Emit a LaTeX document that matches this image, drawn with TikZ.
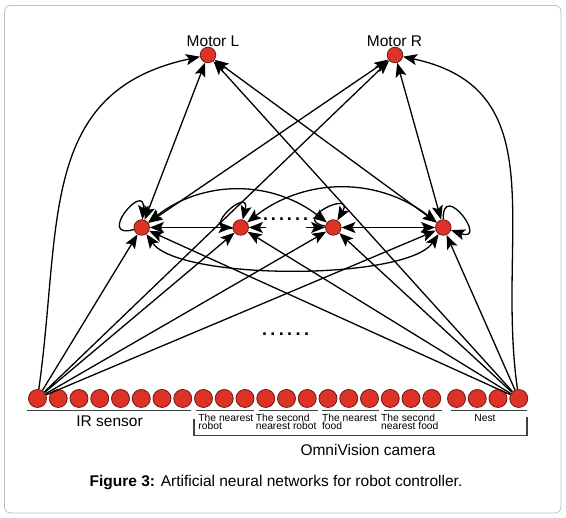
\documentclass[tikz,border=0pt]{standalone}
\usepackage{fontspec}
\setmainfont{Liberation Sans}
\usepackage{tikz}
\usetikzlibrary{arrows.meta}
\definecolor{neuronred}{RGB}{222, 50, 38}
\definecolor{neurondark}{RGB}{105, 28, 20}
\definecolor{framegray}{RGB}{190, 190, 190}
\definecolor{bargray}{RGB}{65, 65, 65}
\tikzset{
  >=Stealth,
  synapse/.style={-{Stealth[length=14pt, width=11pt, inset=3pt]}, line width=1.3pt, black},
  synapse_both/.style={{Stealth[length=14pt, width=11pt, inset=3pt]}-{Stealth[length=14pt, width=11pt, inset=3pt]}, line width=1.3pt, black},
  groupbar/.style={line width=1.7pt, bargray},
  bracketline/.style={line width=1.3pt, bargray}
}
\tikzset{
  neuron/.style={circle, draw=neurondark, fill=neuronred, line width=0.8pt, minimum size=15.5pt, inner sep=0pt},
  inneuron/.style={neuron, minimum size=18pt},
  labeltext/.style={font=\fontsize{15.5}{17}\selectfont, inner sep=0pt},
  grouptext/.style={font=\fontsize{10.3}{8.8}\selectfont, align=left, inner sep=0pt},
  dotstext/.style={font=\fontsize{18}{18}\selectfont\bfseries, inner sep=0pt}
}

\begin{document}
\begin{tikzpicture}[x=1pt, y=1pt]
    \useasboundingbox (0,0) rectangle (566,518);
    \draw[framegray, line width=0.8pt, rounded corners=6pt] (4.5,5) rectangle (561,512.5);

    % Output layer
    \node[neuron] (motorL) at (208, 463) {};
    \node[neuron] (motorR) at (395, 463) {};
    \node[labeltext, anchor=base] (motorLlabel) at (213, 471.3) {Motor L};
    \node[labeltext, anchor=base] (motorRlabel) at (394.5, 471.3) {Motor R};

    % Hidden layer
    \node[neuron] (hid1) at (141.7, 290.5) {};
    \node[neuron] (hid2) at (240.7, 290.5) {};
    \node[neuron] (hid3) at (333.3, 290.5) {};
    \node[neuron] (hid4) at (443.3, 290.5) {};
    \node[dotstext] (hiddots) at (285.5, 299) {\makebox[45pt]{.\hfill.\hfill.\hfill.\hfill.\hfill.}};
    \coordinate (dotsL) at (266, 290.5);
    \coordinate (dotsR) at (306, 290.5);

    % Input layer: 8 IR + 12 camera + 4 nest
    \foreach \i in {1,...,24} {
        \pgfmathsetmacro\xx{37.5 + 20.75*(\i-1) + (\i>20)*4}
        \node[inneuron] (in\i) at (\xx, 119.5) {};
    }
    \node[dotstext] (middots) at (285.5, 183.5) {\makebox[47pt]{.\hfill.\hfill.\hfill.\hfill.\hfill.}};

    % Recurrent connections in the hidden layer
    \draw[synapse_both] (hid1) -- (hid2);
    \draw[synapse] (dotsL) -- (hid2);
    \draw[synapse] (dotsR) -- (hid3);
    \draw[synapse_both] (hid3) -- (hid4);
    \draw[synapse_both] (hid1) to[out=38, in=142] (hid3);
    \draw[synapse_both] (hid2) to[out=38, in=142] (hid4);
    \draw[synapse_both] (hid1) to[out=-55, in=-125, looseness=0.5] (hid4);
    \draw[synapse] (hid1) to[out=195, in=85, distance=40pt] (hid1);
    \draw[synapse] (hid2) to[out=186, in=76, distance=36pt] (hid2);
    \draw[synapse] (hid3) to[out=170, in=60, distance=36pt] (hid3);
    \draw[synapse] (hid4) to[out=91, in=-19, distance=40pt] (hid4);

    % Hidden to motors
    \draw[synapse_both] (hid1) -- (motorL);
    \draw[synapse_both] (hid1) -- (motorR);
    \draw[synapse_both] (hid4) -- (motorL);
    \draw[synapse_both] (hid4) -- (motorR);

    % Leftmost input
    \draw[synapse] (in1) to[out=82, in=192, looseness=1.15] (motorL);
    \draw[synapse] (in1) -- (motorR);
    \draw[synapse] (in1) -- (hid1);
    \draw[synapse] (in1) -- (hid2);
    \draw[synapse] (in1) -- (hid3);
    \draw[synapse] (in1) -- (hid4);

    % Rightmost input
    \draw[synapse] (in24) to[out=98, in=-12, looseness=1.15] (motorR);
    \draw[synapse] (in24) -- (motorL);
    \draw[synapse] (in24) -- (hid1);
    \draw[synapse] (in24) -- (hid2);
    \draw[synapse] (in24) -- (hid3);
    \draw[synapse] (in24) -- (hid4);

    % Sensor groups
    \draw[groupbar] (26.8,107.5) -- (191,107.5);
    \draw[groupbar] (196,107.5) -- (254,107.5);
    \draw[groupbar] (259,107.5) -- (318,107.5);
    \draw[groupbar] (322,107.5) -- (379,107.5);
    \draw[groupbar] (384,107.5) -- (442,107.5);
    \draw[groupbar] (451,107.5) -- (527,107.5);
    \node[labeltext, anchor=base] (irlabel) at (109.6, 91) {IR sensor};
    \node[grouptext, anchor=north west] (robot1) at (198.2, 104.5) {The nearest\\robot};
    \node[grouptext, anchor=north west] (robot2) at (255.6, 104.5) {The second\\nearest robot};
    \node[grouptext, anchor=north west] (food1) at (321.9, 104.5) {The nearest\\food};
    \node[grouptext, anchor=north west] (food2) at (381, 104.5) {The second\\nearest food};
    \node[grouptext, anchor=base] (nestlabel) at (485, 96) {Nest};
    \draw[bracketline] (194,99) -- (194,82.2) -- (527,82.2) -- (527,101.3);
    \node[labeltext, anchor=base] (camlabel) at (368, 62) {OmniVision camera};

    \node[labeltext, anchor=base] (caption) at (276, 31) {\textbf{Figure 3:} Artificial neural networks for robot controller.};
\end{tikzpicture}
\end{document}
